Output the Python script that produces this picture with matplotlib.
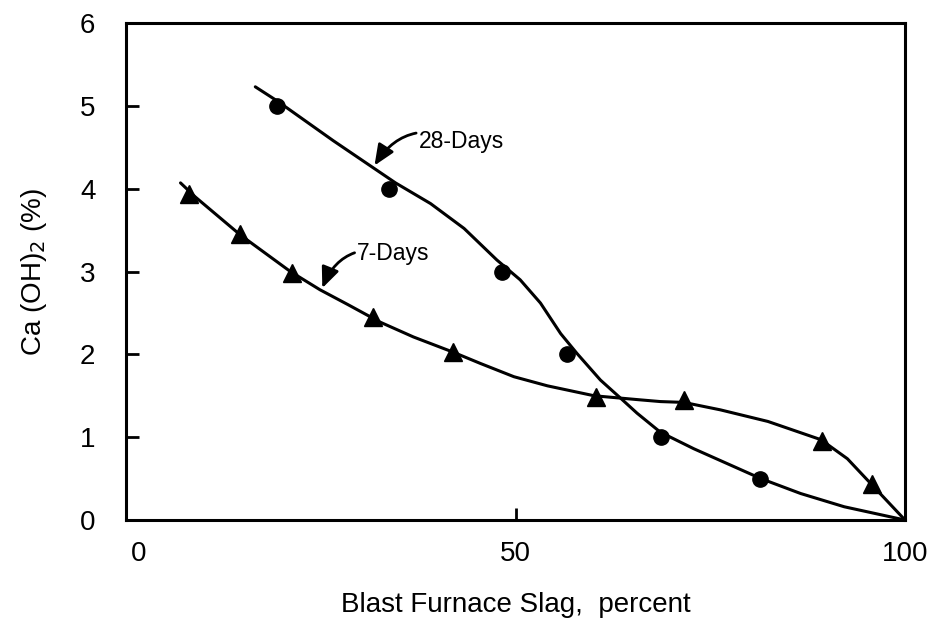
import matplotlib
matplotlib.use("Agg")
import matplotlib.pyplot as plt
import matplotlib.transforms as mtransforms

plt.rcParams['font.family'] = ['Liberation Sans', 'DejaVu Sans']

# 28-day measured points
d28_x = [19.4, 33.8, 48.3, 56.6, 68.7, 81.4]
d28_y = [5.0, 4.0, 3.0, 2.0, 1.0, 0.5]
# 28-day trend curve
d28_curve_x = [16.6, 19.4, 26.6, 34.6, 39.1, 43.4, 47.6, 50.6, 53.2, 55.8, 57.9,
               60.9, 63.5, 65.6, 68.6, 72.9, 77.2, 81.5, 86.6, 92.2, 100.0]
d28_curve_y = [5.23, 5.06, 4.58, 4.07, 3.82, 3.52, 3.14, 2.90, 2.62, 2.25, 2.01,
               1.69, 1.47, 1.29, 1.06, 0.86, 0.68, 0.50, 0.32, 0.16, 0.0]

# 7-day measured points
d7_x = [8.1, 14.7, 21.3, 31.7, 42.0, 60.3, 71.6, 89.3, 95.7]
d7_y = [3.93, 3.45, 2.98, 2.45, 2.03, 1.48, 1.45, 0.95, 0.44]
# 7-day trend curve
d7_curve_x = [7.0, 8.9, 14.7, 21.1, 24.9, 28.5, 32.6, 36.9, 41.9, 45.5, 49.8,
              54.1, 60.1, 66.1, 68.6, 71.6, 76.3, 82.4, 89.2, 92.6, 95.6, 100.0]
d7_curve_y = [4.07, 3.90, 3.44, 3.00, 2.78, 2.60, 2.39, 2.21, 2.03, 1.89, 1.73,
              1.62, 1.50, 1.45, 1.43, 1.42, 1.33, 1.19, 0.97, 0.74, 0.44, 0.0]

x_ticks = [0, 50, 100]
y_ticks = [0, 1, 2, 3, 4, 5, 6]

fig = plt.figure(figsize=(9.27, 6.19), dpi=100)
ax = fig.add_axes([0.1359, 0.1599, 0.8404, 0.8029])

lw = 2.2
ax.plot(d28_curve_x, d28_curve_y, color='black', lw=lw, solid_capstyle='round',
        solid_joinstyle='round')
ax.plot(d7_curve_x, d7_curve_y, color='black', lw=lw, solid_capstyle='round',
        solid_joinstyle='round')
ax.plot(d28_x, d28_y, linestyle='none', marker='o', markersize=11,
        color='black')
ax.plot(d7_x, d7_y, linestyle='none', marker='^', markersize=13,
        color='black')

arrow_props = dict(arrowstyle='-|>,head_length=0.7,head_width=0.3',
                   connectionstyle='arc3,rad=0.45', color='black', lw=2.0,
                   shrinkA=0, shrinkB=0, mutation_scale=18)
ax.annotate('28-Days', xy=(31.9, 4.28), xytext=(37.6, 4.57),
            fontsize=16.5, va='center', ha='left', arrowprops=arrow_props)
ax.annotate('7-Days', xy=(25.2, 2.80), xytext=(29.7, 3.22),
            fontsize=16.5, va='center', ha='left', arrowprops=arrow_props)

ax.set_xlim(0, 100)
ax.set_ylim(0, 6)
ax.set_xticks(x_ticks)
ax.set_yticks(y_ticks)
ax.set_xticklabels([str(v) for v in x_ticks])
ax.set_yticklabels([str(v) for v in y_ticks])
ax.tick_params(axis='both', direction='in', length=9, width=2, labelsize=20,
               color='black')
ax.tick_params(axis='x', pad=15)
ax.tick_params(axis='y', pad=22)

# shift the "0" label on the x axis slightly to the right as in the source
lab0 = ax.get_xticklabels()[0]
lab0.set_transform(lab0.get_transform() +
                   mtransforms.ScaledTranslation(13 / 100, 0, fig.dpi_scale_trans))

for sp in ax.spines.values():
    sp.set_linewidth(2.2)
    sp.set_color('black')

ax.set_xlabel('Blast Furnace Slag,  percent', fontsize=20, labelpad=18)
ax.set_ylabel('Ca (OH)$_2$ (%)', fontsize=20, labelpad=22)

fig.savefig('out.png', dpi=100)
